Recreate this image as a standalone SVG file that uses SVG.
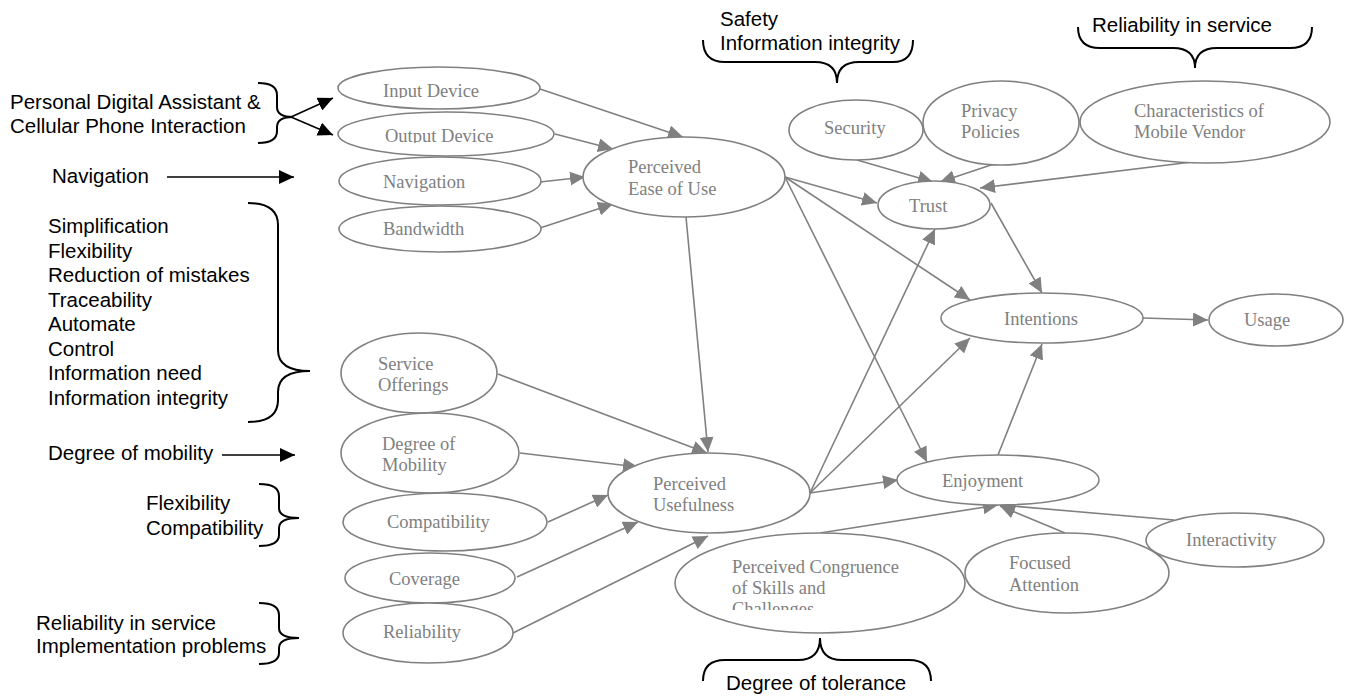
<svg xmlns="http://www.w3.org/2000/svg" width="1348" height="698" viewBox="0 0 1348 698">
<style>
.n ellipse{fill:#fff;stroke:#808080;stroke-width:1.6}
.n text{font-family:"Liberation Serif","Times New Roman",serif;font-size:18.5px;fill:#808080}
.c line{stroke:#808080;stroke-width:1.6;marker-end:url(#ag)}
.a text{font-family:"Liberation Sans",Arial,sans-serif;font-size:20.5px;fill:#000}
.br{fill:none;stroke:#000;stroke-width:2}
.bl{stroke:#000;stroke-width:1.6;marker-end:url(#ab)}
</style>
<defs>
<marker id="ag" markerUnits="userSpaceOnUse" markerWidth="16" markerHeight="14" refX="15" refY="7" orient="auto"><path d="M0,0 L15,7 L0,14 z" fill="#808080"/></marker>
<marker id="ab" markerUnits="userSpaceOnUse" markerWidth="16" markerHeight="14" refX="15" refY="7" orient="auto"><path d="M0,0 L15,7 L0,14 z" fill="#000"/></marker>
<clipPath id="clipIn"><rect x="330" y="60" width="230" height="38"/></clipPath>
<clipPath id="clipOut"><rect x="330" y="110" width="230" height="33"/></clipPath>
<clipPath id="clipPC"><rect x="670" y="530" width="300" height="80"/></clipPath>
</defs>

<g id="connectors" class="c">
<line x1="540" y1="89" x2="683" y2="137"/>
<line x1="555" y1="134" x2="613" y2="149"/>
<line x1="540" y1="182" x2="585" y2="177"/>
<line x1="540" y1="228" x2="613" y2="204"/>
<line x1="686" y1="217" x2="708" y2="452"/>
<line x1="785" y1="177" x2="877" y2="203"/>
<line x1="785" y1="177" x2="970" y2="300"/>
<line x1="785" y1="177" x2="927" y2="462"/>
<line x1="857" y1="160" x2="933" y2="182"/>
<line x1="1000" y1="162" x2="940" y2="182"/>
<line x1="1200" y1="161" x2="980" y2="188"/>
<line x1="991" y1="203" x2="1042" y2="293"/>
<line x1="1143" y1="318" x2="1208" y2="320"/>
<line x1="498" y1="374" x2="707" y2="453"/>
<line x1="520" y1="453" x2="638" y2="467"/>
<line x1="548" y1="522" x2="608" y2="495"/>
<line x1="517" y1="577" x2="638" y2="522"/>
<line x1="513" y1="633" x2="708" y2="536"/>
<line x1="810" y1="493" x2="898" y2="480"/>
<line x1="810" y1="493" x2="935" y2="229"/>
<line x1="810" y1="493" x2="970" y2="338"/>
<line x1="998" y1="455" x2="1042" y2="344"/>
<line x1="820" y1="533" x2="998" y2="505"/>
<line x1="1065" y1="533" x2="1000" y2="506"/>
<line x1="1174" y1="520" x2="1000" y2="505"/>
</g>

<g id="input-device" class="n"><ellipse cx="439" cy="88" rx="101" ry="21"/><text x="383" y="97" clip-path="url(#clipIn)">Input Device</text></g>
<g id="output-device" class="n"><ellipse cx="446" cy="134" rx="108" ry="22"/><text x="385" y="142" clip-path="url(#clipOut)">Output Device</text></g>
<g id="navigation" class="n"><ellipse cx="440" cy="181" rx="101" ry="24"/><text x="383" y="188">Navigation</text></g>
<g id="bandwidth" class="n"><ellipse cx="440" cy="229" rx="101" ry="23"/><text x="383" y="235">Bandwidth</text></g>
<g id="peou" class="n"><ellipse cx="684" cy="177" rx="101" ry="40"/><text x="628" y="173">Perceived</text><text x="628" y="195">Ease of Use</text></g>
<g id="security" class="n"><ellipse cx="856" cy="130" rx="67" ry="30"/><text x="824" y="134">Security</text></g>
<g id="privacy" class="n"><ellipse cx="1001" cy="123" rx="78" ry="42"/><text x="961" y="117">Privacy</text><text x="961" y="138">Policies</text></g>
<g id="vendor" class="n"><ellipse cx="1205" cy="122" rx="125" ry="41"/><text x="1134" y="117">Characteristics of</text><text x="1134" y="138">Mobile Vendor</text></g>
<g id="trust" class="n"><ellipse cx="934" cy="205" rx="56" ry="24"/><text x="909" y="212">Trust</text></g>
<g id="intentions" class="n"><ellipse cx="1042" cy="318" rx="101" ry="25"/><text x="1004" y="325">Intentions</text></g>
<g id="usage" class="n"><ellipse cx="1276" cy="320" rx="67" ry="26"/><text x="1244" y="326">Usage</text></g>
<g id="service-offerings" class="n"><ellipse cx="419" cy="373" rx="78" ry="40"/><text x="378" y="370">Service</text><text x="378" y="391">Offerings</text></g>
<g id="degree-mobility" class="n"><ellipse cx="430" cy="453" rx="89" ry="40"/><text x="382" y="450">Degree of</text><text x="382" y="471">Mobility</text></g>
<g id="pu" class="n"><ellipse cx="709" cy="493" rx="101" ry="40"/><text x="653" y="490">Perceived</text><text x="653" y="511">Usefulness</text></g>
<g id="enjoyment" class="n"><ellipse cx="998" cy="480" rx="101" ry="25"/><text x="942" y="487">Enjoyment</text></g>
<g id="compatibility" class="n"><ellipse cx="445" cy="522" rx="102" ry="29"/><text x="387" y="528">Compatibility</text></g>
<g id="coverage" class="n"><ellipse cx="430" cy="578" rx="85" ry="25"/><text x="389" y="585">Coverage</text></g>
<g id="reliability" class="n"><ellipse cx="428" cy="633" rx="85" ry="30"/><text x="383" y="638">Reliability</text></g>
<g id="congruence" class="n"><ellipse cx="820" cy="583" rx="145" ry="50"/><text x="732" y="573">Perceived Congruence</text><text x="732" y="594">of Skills and</text><text x="732" y="615" clip-path="url(#clipPC)">Challenges</text></g>
<g id="focused" class="n"><ellipse cx="1067" cy="573" rx="102" ry="40"/><text x="1009" y="569">Focused</text><text x="1009" y="591">Attention</text></g>
<g id="interactivity" class="n"><ellipse cx="1235" cy="540" rx="89" ry="27"/><text x="1186" y="546">Interactivity</text></g>

<g id="annotations" class="a">
<text x="10" y="109">Personal Digital Assistant &amp;</text>
<text x="10" y="133">Cellular Phone Interaction</text>
<path class="br" d="M258,83 Q277,83 277,95 L277,107 Q277,117 293,117 Q277,117 277,127 L277,131 Q277,143 258,143"/>
<line class="bl" x1="291" y1="117" x2="333" y2="98"/>
<line class="bl" x1="291" y1="117" x2="333" y2="135"/>
<text x="52" y="183">Navigation</text>
<line class="bl" x1="167" y1="177" x2="294" y2="177"/>
<text x="48" y="233">Simplification</text>
<text x="48" y="257.6">Flexibility</text>
<text x="48" y="282.1">Reduction of mistakes</text>
<text x="48" y="306.7">Traceability</text>
<text x="48" y="331.3">Automate</text>
<text x="48" y="355.9">Control</text>
<text x="48" y="380.4">Information need</text>
<text x="48" y="405">Information integrity</text>
<path class="br" d="M248,203 Q278,203 278,225 L278,350 Q278,371 310,371 Q278,371 278,392 L278,400 Q278,422 248,422"/>
<text x="48" y="460">Degree of mobility</text>
<line class="bl" x1="222" y1="455" x2="295" y2="455"/>
<text x="146" y="510">Flexibility</text>
<text x="146" y="535">Compatibility</text>
<path class="br" d="M259,484 Q279,484 279,496 L279,508 Q279,518 299,518 Q279,518 279,528 L279,535 Q279,546 259,546"/>
<text x="36" y="630">Reliability in service</text>
<text x="36" y="653">Implementation problems</text>
<path class="br" d="M259,603 Q279,603 279,615 L279,628 Q279,638 299,638 Q279,638 279,648 L279,653 Q279,664 259,664"/>
<text x="720" y="26">Safety</text>
<text x="720" y="50">Information integrity</text>
<path class="br" d="M703,40 Q703,62 725,62 L815,62 Q837,62 837,83 Q837,62 859,62 L893,62 Q913,62 913,40"/>
<text x="1092" y="32">Reliability in service</text>
<path class="br" d="M1078,27 Q1078,48 1100,48 L1173,48 Q1195,48 1195,68 Q1195,48 1217,48 L1290,48 Q1312,48 1312,27"/>
<path class="br" d="M703,681 Q703,660 725,660 L798,660 Q820,660 820,638 Q820,660 842,660 L909,660 Q931,660 931,681"/>
<text x="726" y="690">Degree of tolerance</text>
</g>
</svg>
